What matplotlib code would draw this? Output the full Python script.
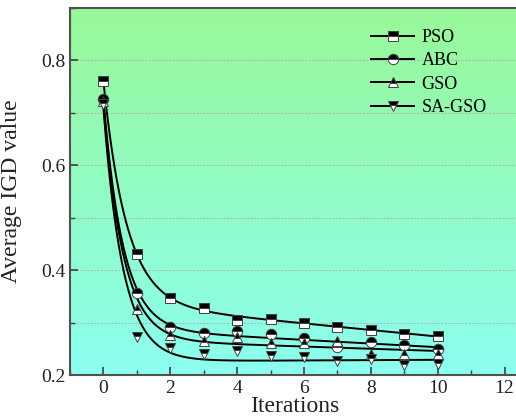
import numpy as np
import matplotlib
matplotlib.use("Agg")
import matplotlib.pyplot as plt
from matplotlib.colors import LinearSegmentedColormap
from matplotlib.ticker import MultipleLocator

iterations = [0, 1, 2, 3, 4, 5, 6, 7, 8, 9, 10]
pso = [0.760, 0.430, 0.347, 0.328, 0.305, 0.307, 0.300, 0.292, 0.285, 0.278, 0.275]
abc = [0.727, 0.357, 0.291, 0.281, 0.283, 0.278, 0.271, 0.253, 0.262, 0.258, 0.249]
gso = [0.722, 0.326, 0.277, 0.265, 0.273, 0.261, 0.261, 0.265, 0.241, 0.240, 0.241]
sa_gso = [0.716, 0.272, 0.251, 0.240, 0.245, 0.236, 0.235, 0.227, 0.230, 0.219, 0.221]

series = [("PSO", pso, "s", 6.5), ("ABC", abc, "o", 7.5),
          ("GSO", gso, "^", 7.5), ("SA-GSO", sa_gso, "v", 7.5)]


def fit_curve(x, y):
    # a + b*exp(-k x) + c*x, k picked by grid search, rest by least squares
    x = np.asarray(x, float)
    y = np.asarray(y, float)
    best = None
    for k in np.linspace(0.8, 1.7, 100):
        A = np.column_stack([np.ones_like(x), np.exp(-k * x), x])
        coef, *_ = np.linalg.lstsq(A, y, rcond=None)
        err = np.sum((A @ coef - y) ** 2)
        if best is None or err < best[0]:
            best = (err, k, coef)
    _, k, coef = best
    xs = np.linspace(x.min(), x.max(), 300)
    return xs, coef[0] + coef[1] * np.exp(-k * xs) + coef[2] * xs


plt.rcParams["font.family"] = ["Liberation Serif", "DejaVu Serif"]

fig = plt.figure(figsize=(5.16, 4.20), dpi=100)
ax = fig.add_axes([70 / 516, 1 - 375 / 420, 468 / 516, 367 / 420])

cmap = LinearSegmentedColormap.from_list("bg", ["#8cfff0", "#98f898"])
grad = np.linspace(0, 1, 256).reshape(-1, 1)
ax.imshow(grad, cmap=cmap, aspect="auto", origin="lower",
          extent=[0, 1, 0, 1], transform=ax.transAxes, zorder=0)

for lvl in np.arange(0.3, 0.85, 0.1):
    ax.axhline(lvl, color="#b0b0b0", linestyle=(0, (2, 1.5)), linewidth=0.7, zorder=1)

handles = []
for name, vals, mk, ms in series:
    xs, ys = fit_curve(iterations, vals)
    ax.plot(xs, ys, color="black", linewidth=1.4, zorder=2)
    ax.plot(iterations, vals, linestyle="none", marker=mk, markersize=ms,
            markerfacecolor="black", markerfacecoloralt="white", fillstyle="top",
            markeredgecolor="#404040", markeredgewidth=0.7, zorder=3)
    h, = ax.plot([], [], color="black", linewidth=1.4, marker=mk, markersize=ms,
                 markerfacecolor="black", markerfacecoloralt="white", fillstyle="top",
                 markeredgecolor="#404040", markeredgewidth=0.7, label=name)
    handles.append(h)

ax.set_xlim(-1, 13)
ax.set_ylim(0.2, 0.9)
ax.xaxis.set_major_locator(MultipleLocator(2))
ax.xaxis.set_minor_locator(MultipleLocator(1))
ax.yaxis.set_minor_locator(MultipleLocator(0.1))
ax.tick_params(which="both", direction="in", top=False, right=False,
               labelsize=14, colors="#404040", labelcolor="#222222")
ax.tick_params(which="major", length=6, width=1.2)
ax.tick_params(which="minor", length=3.5, width=1.0)
ax.set_yticks([0.2, 0.4, 0.6, 0.8])
ax.set_yticklabels(["0.2", "0.4", "0.6", "0.8"])
for s in ax.spines.values():
    s.set_color("#505050")
    s.set_linewidth(1.5)

ax.set_xlabel("Iterations", fontsize=17, color="#222222")
ax.xaxis.set_label_coords(225 / 468, -21 / 367)
ax.set_ylabel("Average IGD value", fontsize=17, color="#222222")
ax.yaxis.set_label_coords(-48 / 468, 0.5)

fig.legend(handles=handles, loc="upper left", bbox_to_anchor=(362 / 516, 1 - 20 / 420),
           frameon=False, fontsize=13, handlelength=2.4, handletextpad=0.4,
           labelspacing=0.35, borderpad=0)

fig.savefig("out.png", dpi=100)
